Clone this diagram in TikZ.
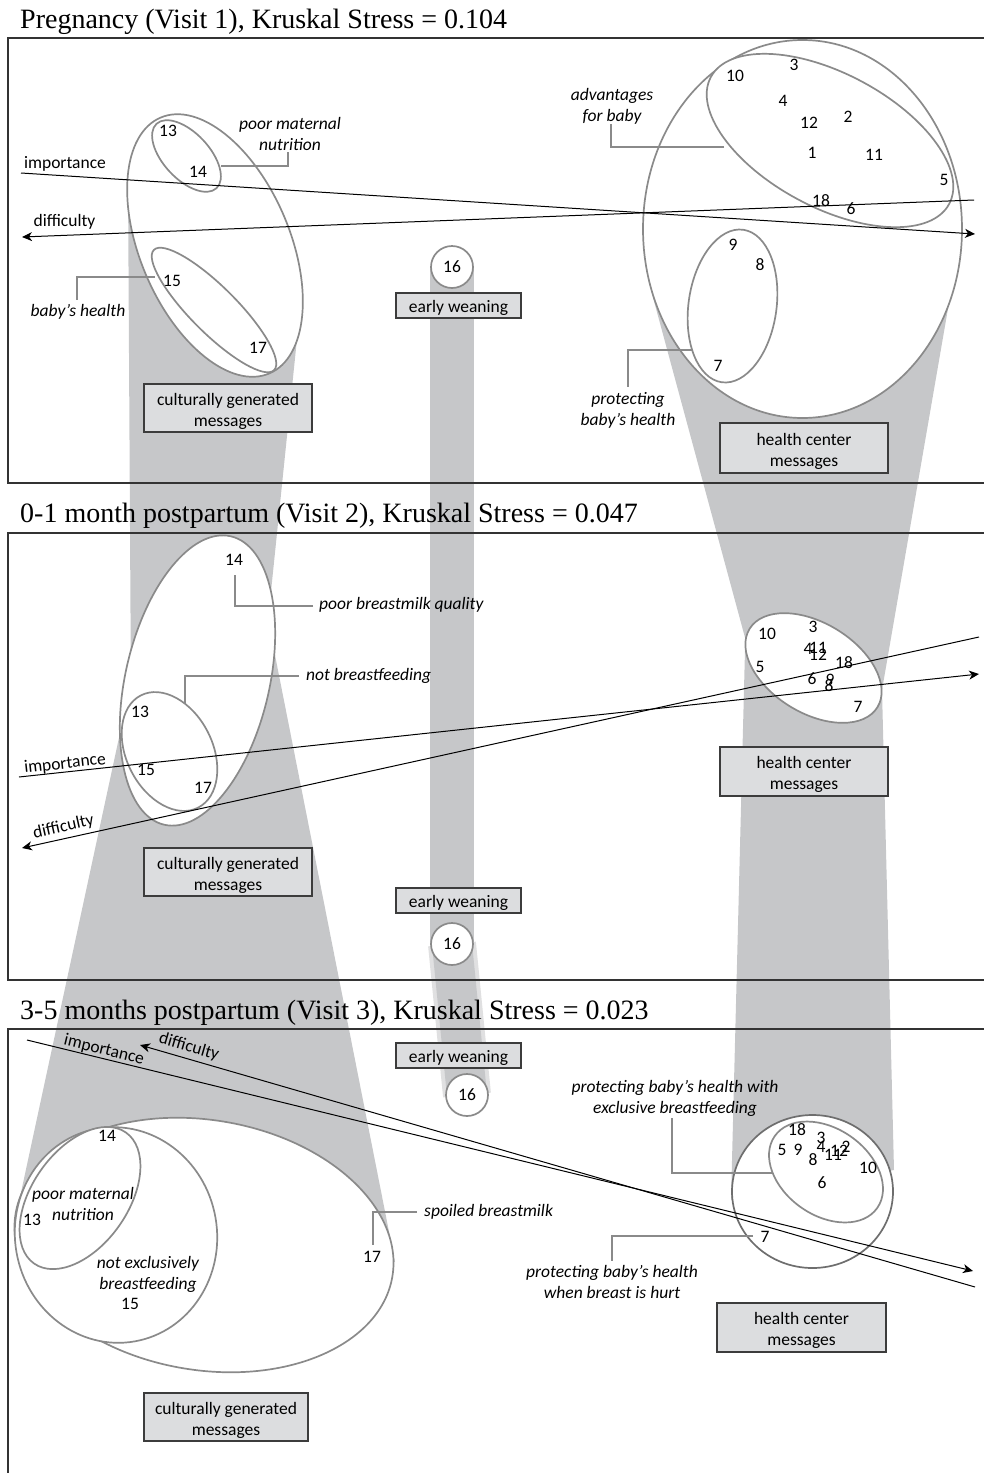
\documentclass[tikz,border=0pt]{standalone}
\usepackage{fontspec}
\setmainfont{Carlito}
\newfontfamily\titlefont{Liberation Serif}
\usetikzlibrary{arrows.meta}
\definecolor{bandc}{HTML}{C6C7C9}
\definecolor{ellc}{HTML}{8A8A8A}
\definecolor{elld}{HTML}{6E6E6E}
\definecolor{boxfill}{HTML}{DCDDDF}
\definecolor{boxdraw}{HTML}{3C3C3C}
\definecolor{framec}{HTML}{333333}
\tikzset{
  ell/.style={draw=ellc, line width=1.7pt, fill=white},
  lead/.style={draw=ellc, line width=1.5pt},
  bandfill/.style={fill=bandc, draw=none},
  msgbox/.style={draw=boxdraw, line width=1.2pt, fill=boxfill, inner sep=0pt},
  boxtxt/.style={align=center, font=\fontsize{17.5}{21}\selectfont, inner sep=0pt},
  num/.style={font=\fontsize{17.5}{20}\selectfont, inner sep=0pt},
  lab/.style={font=\fontsize{17.5}{21}\selectfont\itshape, align=center, inner sep=0pt},
  axlab/.style={font=\fontsize{17.5}{20}\selectfont, inner sep=0pt},
  axis/.style={draw=black, line width=1pt},
  axarrow/.style={axis, -{Stealth[length=10pt,width=9pt,inset=3pt]}},
  frame/.style={draw=framec, line width=1.2pt},
  ttl/.style={font=\titlefont\fontsize{28}{32}\selectfont, anchor=base west, inner sep=0pt},
  dotsixteen/.style={circle, draw=ellc, line width=1.7pt, fill=white, minimum size=42pt,
     inner sep=0pt, font=\fontsize{17.5}{20}\selectfont},
}
\newcommand\myell[6][ell]{\draw[#1, rotate around={#6:(#2,#3)}] (#2,#3) ellipse [x radius=#4, y radius=#5];}
\begin{document}
\begin{tikzpicture}[x=1pt, y=-1pt]
\useasboundingbox (0,0) rectangle (984,1473);
% ---------------- gray bands ----------------
\fill[bandfill] (128,180) -- (301,300) -- (266,640) -- (131,700) -- cycle;
\fill[bandfill] (120,733) -- (273,645) -- (395,1262) -- (14,1225) -- cycle;
\fill[bandfill] (651,290) -- (950,297) -- (882,690) -- (747,645) -- cycle;
\fill[bandfill] (745,650) -- (882,690) -- (894,1170) -- (731,1200) -- cycle;
\coordinate (s16a) at (452,267);
\coordinate (s16b) at (452,944);
\coordinate (s16c) at (467,1095);
\draw[bandc, line width=44pt] (s16a) -- (s16b);
\draw[bandc!55, line width=48pt] (s16b) -- (s16c);
\draw[bandc, line width=40pt] (s16b) -- (s16c);
% ---------------- frames and titles ----------------
\draw[frame] (984,38) -- (8,38) -- (8,483) -- (984,483);
\draw[frame] (984,533) -- (8,533) -- (8,980) -- (984,980);
\draw[frame] (984,1029) -- (8,1029) -- (8,1474);
\node[ttl] (t1) at (20,28) {Pregnancy (Visit 1), Kruskal Stress = 0.104};
\node[ttl] (t2) at (20,522) {0-1 month postpartum (Visit 2), Kruskal Stress = 0.047};
\node[ttl] (t3) at (20,1019) {3-5 months postpartum (Visit 3), Kruskal Stress = 0.023};
% ---------------- panel 1 ----------------
\myell{215}{245.5}{75}{139}{23}
\myell{186.5}{156}{23}{44}{43}
\myell{214}{310}{23}{85}{45}
\myell{802.5}{229}{159.5}{189}{0}
\myell{830}{140.5}{135}{67}{-28}
\myell{732.5}{306}{44}{77}{-8}
\node[dotsixteen] (c16a) at (s16a) {16};
\node[msgbox, minimum width=125pt, minimum height=25pt] (ew1) at (458.5,305.5) {};
\node[boxtxt] at ([yshift=-2pt]ew1.center) {early weaning};
\node[msgbox, minimum width=168pt, minimum height=48pt] (cg1) at (228,408) {};
\node[boxtxt] at ([yshift=-3pt]cg1.center) {culturally generated\\messages};
\node[msgbox, minimum width=168pt, minimum height=50pt] (hc1) at (804,448) {};
\node[boxtxt] at ([yshift=-3pt]hc1.center) {health center\\messages};
\coordinate (i1a) at (21,173); \coordinate (i1b) at (975,234);
\coordinate (d1a) at (974,200); \coordinate (d1b) at (22,237);
\draw[axarrow] (i1a) -- (i1b);
\draw[axarrow] (d1a) -- (d1b);
\node[axlab] (imp1) at (65,164) {importance};
\node[axlab] (dif1) at (64.5,222) {difficulty};
\foreach \t/\x/\y in {13/168/131, 14/198/172, 15/172/281, 17/258/348,
   10/735/76, 3/794/65, 4/783/101, 12/809/123, 2/848/117, 1/812/153, 11/874/155,
   5/944/180, 18/821/201, 6/851/209, 9/733/245, 8/760/265, 7/718/366}
  \node[num] (n1-\t) at (\x,\y) {\t};
\node[lab] (pmn1) at (290,134) {poor maternal\\nutrition};
\node[lab] (bh1) at (78,312) {baby’s health};
\node[lab] (adv1) at (612,106) {advantages\\for baby};
\node[lab] (pbh1) at (628,410) {protecting\\baby’s health};
\coordinate (l1a) at (221,166); \coordinate (l1b) at (288,152);
\coordinate (l2a) at (155,277); \coordinate (l2b) at (77,300);
\coordinate (l3a) at (724,147); \coordinate (l3b) at (611,124);
\coordinate (l4a) at (693,350); \coordinate (l4b) at (628,387);
\draw[lead] (l1a) -| (l1b);
\draw[lead] (l2a) -| (l2b);
\draw[lead] (l3a) -| (l3b);
\draw[lead] (l4a) -| (l4b);
% ---------------- panel 2 ----------------
\myell{197.5}{680.5}{72}{148}{-13}
\myell{169.5}{751.5}{43}{63}{27}
\myell{813.5}{668}{75}{45}{-31.5}
\node[dotsixteen] (c16b) at (s16b) {16};
\node[msgbox, minimum width=125pt, minimum height=25pt] (ew2) at (458.5,900.5) {};
\node[boxtxt] at ([yshift=-2pt]ew2.center) {early weaning};
\node[msgbox, minimum width=168pt, minimum height=48pt] (cg2) at (228,872) {};
\node[boxtxt] at ([yshift=-3pt]cg2.center) {culturally generated\\messages};
\node[msgbox, minimum width=168pt, minimum height=49pt] (hc2) at (804,771.5) {};
\node[boxtxt] at ([yshift=-3pt]hc2.center) {health center\\messages};
\coordinate (i2a) at (19,777); \coordinate (i2b) at (979,674);
\coordinate (d2a) at (979,637); \coordinate (d2b) at (22,848);
\draw[axarrow] (i2a) -- (i2b);
\draw[axarrow] (d2a) -- (d2b);
\node[axlab, rotate=6.1] (imp2) at (65,764) {importance};
\node[axlab, rotate=12.4] (dif2) at (63.5,827) {difficulty};
\foreach \t/\x/\y in {14/234/560, 13/140/712, 15/146/770, 17/203/788,
   10/767/634, 3/813/627, 4/808/649, 11/818/648, 12/818/655, 5/760/667,
   18/844/663, 6/812/679, 9/830/680, 8/829/686, 7/858/707}
  \node[num] (n2-\t) at (\x,\y) {\t};
\node[lab, anchor=west] (pbq2) at (319,605) {poor breastmilk quality};
\node[lab, anchor=west] (nbf2) at (306,676) {not breastfeeding};
\coordinate (l5a) at (313,606); \coordinate (l5b) at (235,575);
\coordinate (l6a) at (299,676); \coordinate (l6b) at (185,704);
\draw[lead] (l5a) -| (l5b);
\draw[lead] (l6a) -| (l6b);
% ---------------- panel 3 ----------------
\myell{204}{1245}{191}{125}{-9.5}
\myell{116}{1235}{101}{108}{10}
\myell{80}{1198}{48}{80}{-35}
\myell[ell, draw=elld]{812.5}{1191.5}{80.5}{76.5}{0}
\myell{826}{1172}{62.6}{43.3}{-35}
\node[dotsixteen] (c16c) at (s16c) {16};
\node[msgbox, minimum width=125pt, minimum height=25pt] (ew3) at (458.5,1055.5) {};
\node[boxtxt] at ([yshift=-2pt]ew3.center) {early weaning};
\node[msgbox, minimum width=164pt, minimum height=48pt] (cg3) at (226,1417) {};
\node[boxtxt] at ([yshift=-3pt]cg3.center) {culturally generated\\messages};
\node[msgbox, minimum width=169pt, minimum height=49pt] (hc3) at (801.5,1327.5) {};
\node[boxtxt] at ([yshift=-3pt]hc3.center) {health center\\messages};
\coordinate (i3a) at (27,1040); \coordinate (i3b) at (973,1271);
\coordinate (d3a) at (975,1287); \coordinate (d3b) at (140,1045);
\draw[axarrow] (i3a) -- (i3b);
\draw[axarrow] (d3a) -- (d3b);
\node[axlab, rotate=-13.7] (imp3) at (104,1050) {importance};
\node[axlab, rotate=-16.2] (dif3) at (189,1047) {difficulty};
\foreach \t/\x/\y in {14/107/1136, 13/32/1220, 15/130/1304, 17/372/1257,
   18/797/1130, 3/821/1138, 5/782/1150, 9/798/1150, 4/821/1147, 11/833/1155,
   12/839/1151, 2/846/1147, 8/813/1160, 10/868/1168, 6/822/1183, 7/765/1237}
  \node[num] (n3-\t) at (\x,\y) {\t};
\node[lab] (pmn3) at (83,1204) {poor maternal\\nutrition};
\node[lab] (neb3) at (148,1274) {not exclusively\\breastfeeding};
\node[lab, anchor=west] (sb3) at (424,1212) {spoiled breastmilk};
\node[lab] (pwe3) at (675,1098) {protecting baby’s health with\\exclusive breastfeeding};
\node[lab] (pwh3) at (612,1282) {protecting baby’s health\\when breast is hurt};
\coordinate (l7a) at (417,1212); \coordinate (l7b) at (373,1245);
\coordinate (l8a) at (772,1173); \coordinate (l8b) at (672,1118);
\coordinate (l9a) at (753,1236); \coordinate (l9b) at (612,1261);
\draw[lead] (l7a) -| (l7b);
\draw[lead] (l8a) -| (l8b);
\draw[lead] (l9a) -| (l9b);
\end{tikzpicture}
\end{document}
